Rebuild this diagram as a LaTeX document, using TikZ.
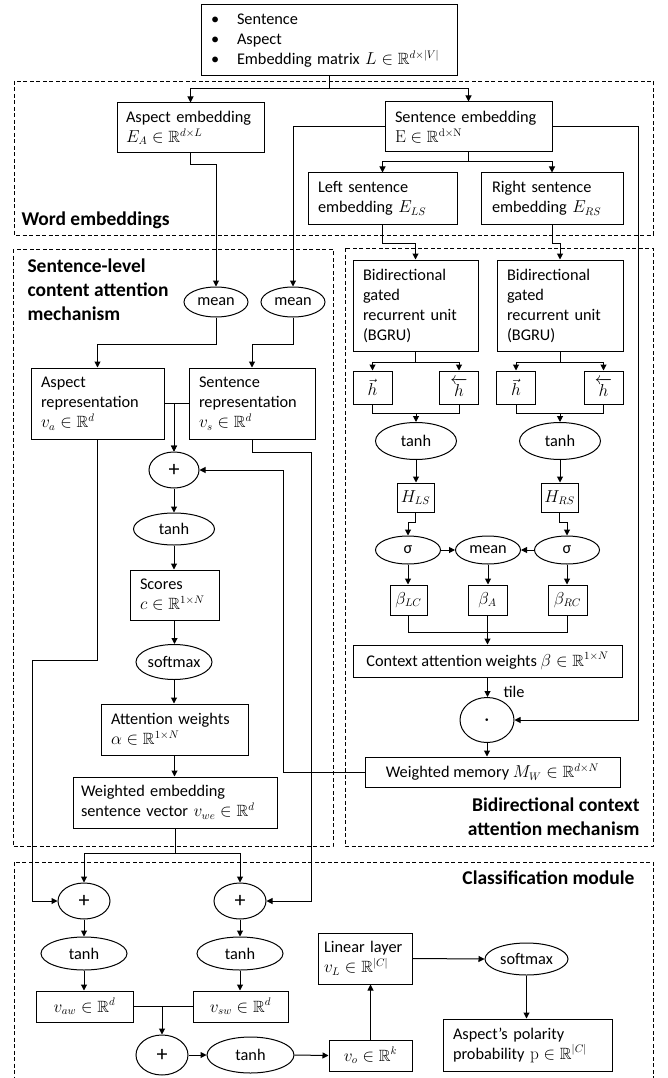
\documentclass[tikz,border=0pt]{standalone}
\usepackage{amssymb, amsmath}
\usepackage[no-math]{fontspec}
\setmainfont{Carlito}
\usetikzlibrary{arrows.meta, shapes.geometric}

\tikzset{
  blk/.style={draw, align=left, inner sep=0pt},
  ell/.style={draw, ellipse, inner sep=0pt},
  hdr/.style={font=\fontsize{19.5}{24}\selectfont\bfseries, inner sep=0pt},
  grp/.style={draw, line width=0.8pt, dash pattern=on 4pt off 2.5pt},
  pls/.style={font=\fontsize{22}{24}\selectfont},
}

\begin{document}
\begin{tikzpicture}[x=1pt, y=-1pt, line width=1pt, >={Triangle[length=6pt,width=6pt]},
  font=\fontsize{16.3}{20}\selectfont]
\useasboundingbox (0,0) rectangle (667,1078);

% dashed groups
\draw[grp] (14,81) rectangle (653,235);
\draw[grp] (13,249) rectangle (333,846);
\draw[grp] (345,248) rectangle (653,846);
\draw[grp] (14,862) rectangle (653,1100);

\node[hdr, anchor=west] (lwe) at (21,220) {Word embeddings};
\node[hdr, anchor=north west, align=left] (lsl) at (27,258) {Sentence-level\\content attention\\mechanism};
\node[hdr, anchor=north east, align=right] (lbc) at (640,797) {Bidirectional context\\attention mechanism};
\node[hdr, anchor=east] (lcm) at (635,878) {Classification module};

% inputs and word embeddings
\node[blk, minimum width=256pt, minimum height=71pt, text width=236pt] (inp) at (329,40.5)
  {\makebox[26pt][l]{\textbullet}Sentence\\\makebox[26pt][l]{\textbullet}Aspect\\
   \makebox[26pt][l]{\textbullet}Embedding matrix $L\in\mathbb{R}^{d\times|V|}$};
\node[blk, minimum width=147pt, minimum height=50pt, text width=129pt] (aemb) at (190.5,128) {Aspect embedding\\$E_A\in\mathbb{R}^{d\times L}$};
\node[blk, minimum width=167pt, minimum height=50pt, text width=147pt] (semb) at (468.5,127) {Sentence embedding\\$\mathrm{E}\in\mathbb{R}^{\mathrm{d}\times\mathrm{N}}$};
\node[blk, minimum width=149pt, minimum height=51pt, text width=129pt] (lsemb) at (382.5,198.5) {Left sentence\\embedding $E_{LS}$};
\node[blk, minimum width=142pt, minimum height=51pt, text width=120pt] (rsemb) at (552,198.5) {Right sentence\\embedding $E_{RS}$};

% sentence-level content attention
\node[ell, minimum width=64pt, minimum height=30pt] (meanA) at (216,302) {mean};
\node[ell, minimum width=64pt, minimum height=30pt] (meanS) at (293,302) {mean};
\node[blk, minimum width=133pt, minimum height=71pt, text width=113pt] (arep) at (97.5,403.5) {Aspect\\representation\\$v_a\in\mathbb{R}^d$};
\node[blk, minimum width=126pt, minimum height=71pt, text width=106pt] (srep) at (252,403.5) {Sentence\\representation\\$v_s\in\mathbb{R}^d$};
\node[ell, pls, minimum width=50pt, minimum height=36pt] (plus1) at (174,470) {+};
\node[ell, minimum width=81pt, minimum height=32pt] (tanh1) at (174,529) {tanh};
\node[blk, minimum width=89pt, minimum height=50pt, text width=69pt] (scores) at (174.5,595) {Scores\\$c\in\mathbb{R}^{1\times N}$};
\node[ell, minimum width=76pt, minimum height=35pt] (smx1) at (174,662) {softmax};
\node[blk, minimum width=147pt, minimum height=51pt, text width=127pt] (attw) at (174.5,729.5) {Attention weights\\$\alpha\in\mathbb{R}^{1\times N}$};
\node[blk, minimum width=204pt, minimum height=51pt, text width=188pt] (wemb) at (175,802.5) {Weighted embedding\\sentence vector $v_{we}\in\mathbb{R}^d$};

% bidirectional context attention
\node[blk, minimum width=125pt, minimum height=91pt, text width=105pt] (bgL) at (415.5,305.5) {Bidirectional\\gated\\recurrent unit\\(BGRU)};
\node[blk, minimum width=126pt, minimum height=91pt, text width=106pt] (bgR) at (560,305.5) {Bidirectional\\gated\\recurrent unit\\(BGRU)};
\node[blk, minimum width=39pt, minimum height=33pt] (hfL) at (372.5,387.5) {$\vec{h}$};
\node[blk, minimum width=39pt, minimum height=33pt] (hbL) at (459,387.5) {$\overleftarrow{h}$};
\node[blk, minimum width=39pt, minimum height=33pt] (hfR) at (516,387.5) {$\vec{h}$};
\node[blk, minimum width=39pt, minimum height=33pt] (hbR) at (603.5,387.5) {$\overleftarrow{h}$};
\node[ell, minimum width=81pt, minimum height=37pt] (tanhL) at (416,441) {tanh};
\node[ell, minimum width=81pt, minimum height=37pt] (tanhR) at (560,441) {tanh};
\node[blk, minimum width=37pt, minimum height=29pt] (HLS) at (415.5,497.5) {$H_{LS}$};
\node[blk, minimum width=37pt, minimum height=29pt] (HRS) at (559.5,497.5) {$H_{RS}$};
\node[ell, minimum width=65pt, minimum height=28pt] (sigL) at (408,550) {σ};
\node[ell, minimum width=65pt, minimum height=28pt] (meanM) at (488,550) {mean};
\node[ell, minimum width=65pt, minimum height=28pt] (sigR) at (567,550) {σ};
\node[blk, minimum width=37pt, minimum height=30pt] (bLC) at (408.5,600) {$\beta_{LC}$};
\node[blk, minimum width=39pt, minimum height=30pt] (bA) at (487.5,600) {$\beta_{A}$};
\node[blk, minimum width=39pt, minimum height=30pt] (bRC) at (567.5,600) {$\beta_{RC}$};
\node[blk, minimum width=269pt, minimum height=32pt] (ctx) at (487.5,661) {Context attention weights $\beta\in\mathbb{R}^{1\times N}$};
\node[ell, minimum width=54pt, minimum height=45pt] (dot) at (487,720) {$\boldsymbol{\cdot}$};
\node[anchor=west, inner sep=0pt] (tile) at (503,692) {tile};
\node[blk, minimum width=255pt, minimum height=30pt] (wmem) at (492.5,772) {Weighted memory $M_W\in\mathbb{R}^{d\times N}$};

% classification module
\node[ell, pls, minimum width=52pt, minimum height=36pt] (plusA) at (84,901) {+};
\node[ell, pls, minimum width=52pt, minimum height=36pt] (plusS) at (240,901) {+};
\node[ell, minimum width=86pt, minimum height=33pt] (tanhA) at (84,953.5) {tanh};
\node[ell, minimum width=86pt, minimum height=33pt] (tanhS) at (240,953.5) {tanh};
\node[blk, minimum width=97pt, minimum height=31pt] (vaw) at (84.5,1006.5) {$v_{aw}\in\mathbb{R}^d$};
\node[blk, minimum width=95pt, minimum height=31pt] (vsw) at (240.5,1006.5) {$v_{sw}\in\mathbb{R}^d$};
\node[ell, pls, minimum width=52pt, minimum height=40pt] (plusO) at (162,1055) {+};
\node[ell, minimum width=87pt, minimum height=36pt] (tanhO) at (250.5,1055) {tanh};
\node[blk, minimum width=83pt, minimum height=31pt] (vo) at (370.5,1055.5) {$v_o\in\mathbb{R}^k$};
\node[blk, minimum width=94pt, minimum height=51pt, text width=82pt] (lin) at (365,958.5) {Linear layer\\$v_L\in\mathbb{R}^{|C|}$};
\node[ell, minimum width=83pt, minimum height=32pt] (smx2) at (526.5,959) {softmax};
\node[blk, minimum width=169pt, minimum height=52pt, text width=149pt] (pol) at (527.5,1045) {Aspect’s polarity\\probability $\mathrm{p}\in\mathbb{R}^{|C|}$};

% word embeddings connectors
\draw[->] (inp.south) -- (inp.south |- 0,89) -| (aemb.north);
\draw[->] (inp.south |- 0,89) -| (semb.north);
\draw[->] (semb.south) -- (semb.south |- 0,162) -| (lsemb.north);
\draw[->] (semb.south |- 0,162) -| (rsemb.north);
\draw[->] (aemb.south) -- (aemb.south |- 0,165) -| (meanA.north);
\draw[->] (semb.west) -| (meanS.north);
\draw[->] (semb.east) -- (semb.east -| 638,0) |- (dot.east);
\draw[->] (lsemb.south) -- (lsemb.south |- 0,243) -| (bgL.north);
\draw[->] (rsemb.south) -- (rsemb.south |- 0,243) -| (bgR.north);

% content attention connectors
\draw[->] (meanA.south) -- (meanA.south |- 0,344) -| (arep.north);
\draw[->] (meanS.south) -- (meanS.south |- 0,344) -| (srep.north);
\draw[->] (arep.east) -| (plus1.north);
\draw[->] (srep.west) -| (plus1.north);
\draw[->] (plus1.south) -- (tanh1.north);
\draw[->] (tanh1.south) -- (tanh1.south |- scores.north);
\draw[->] (scores.south) -- (scores.south |- smx1.north);
\draw[->] (smx1.south) -- (smx1.south |- attw.north);
\draw[->] (attw.south) -- (attw.south |- wemb.north);
\draw[->] (wmem.west) -| (plus1.east -| 283,0) -- (plus1.east);
\draw[->] (srep.south) -- ++(0,13) -| (plusS.east -| 311,0) -- (plusS.east);
\draw[->] (arep.south) -- ++(0,221) -| (plusA.west -| 32,0) -- (plusA.west);
\draw[->] (wemb.south) -- ++(0,25) -| (plusA.north);
\draw[->] (wemb.south |- 0,853) -| (plusS.north);

% context attention connectors
\draw[->] (bgL.south) -- ++(0,11) -| (hfL.north);
\draw[->] (bgL.south |- 0,362) -| (hbL.north);
\draw[->] (bgR.south) -- ++(0,11) -| (hfR.north);
\draw[->] (bgR.south |- 0,362) -| (hbR.north);
\draw (hfL.south) -- ++(0,9) -| (hbL.south);
\draw (hfR.south) -- ++(0,9) -| (hbR.south);
\draw[->] (tanhL.north |- 0,413) -- (tanhL.north);
\draw[->] (tanhR.north |- 0,413) -- (tanhR.north);
\draw[->] (tanhL.south) -- (tanhL.south |- HLS.north);
\draw[->] (tanhR.south) -- (tanhR.south |- HRS.north);
\draw[->] (HLS.south) -- ++(0,10) -| (sigL.north);
\draw[->] (HRS.south) -- ++(0,10) -| (sigR.north);
\draw[->] (sigL.east) -- (meanM.west);
\draw[->] (sigR.west) -- (meanM.east);
\draw[->] (sigL.south) -- (sigL.south |- bLC.north);
\draw[->] (meanM.south) -- (meanM.south |- bA.north);
\draw[->] (sigR.south) -- (sigR.south |- bRC.north);
\draw (bLC.south) -- ++(0,17) -| (bRC.south);
\draw[->] (bA.south) -- (ctx.north);
\draw[->] (ctx.south) -- (ctx.south |- dot.north);
\draw[->] (dot.south) -- (dot.south |- wmem.north);

% classification connectors
\draw[->] (plusA.south) -- (tanhA.north);
\draw[->] (plusS.south) -- (tanhS.north);
\draw[->] (tanhA.south) -- (tanhA.south |- vaw.north);
\draw[->] (tanhS.south) -- (tanhS.south |- vsw.north);
\draw (vaw.east) -- (vsw.west);
\draw[->] (vaw.east -| plusO.north) -- (plusO.north);
\draw[->] (plusO.east) -- (tanhO.west);
\draw[->] (tanhO.east) -- (vo.west);
\draw[->] (vo.north) -- (vo.north |- lin.south);
\draw[->] (lin.east) -- (smx2.west);
\draw[->] (smx2.south) -- (smx2.south |- pol.north);
\end{tikzpicture}
\end{document}
